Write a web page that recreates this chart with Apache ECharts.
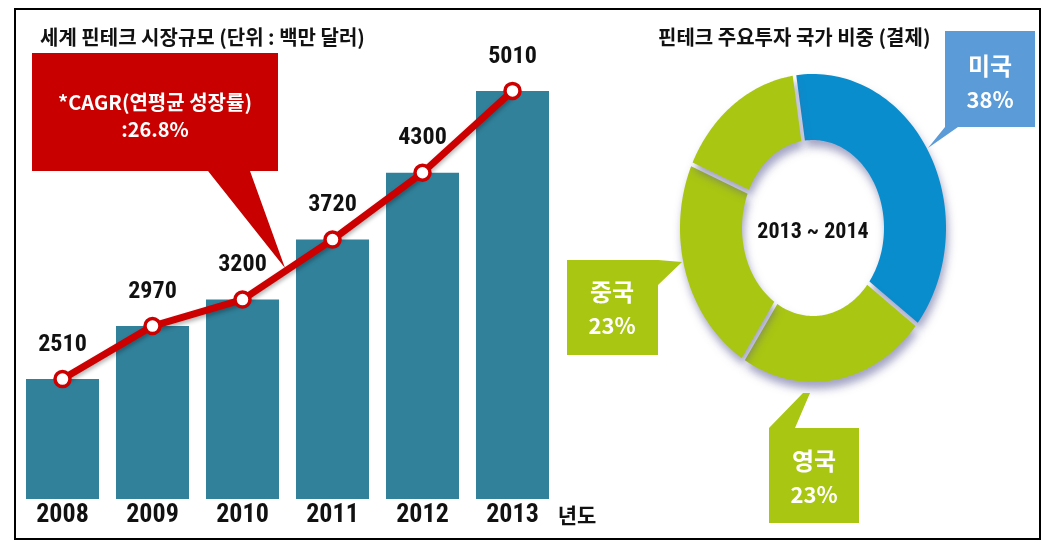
<!DOCTYPE html>
<html>
<head>
<meta charset="utf-8">
<script src="https://cdn.jsdelivr.net/npm/echarts@6/dist/echarts.min.js"></script>
<style>
html,body{margin:0;padding:0;background:#fff;}
#c{width:1054px;height:544px;}
</style>
</head>
<body>
<div id="c"></div>
<script>
// ---- data ----
const years = ['2008', '2009', '2010', '2011', '2012', '2013'];
const marketSize = [2510, 2970, 3200, 3720, 4300, 5010];
const leftTitle = '세계 핀테크 시장규모 (단위 : 백만 달러)';
const rightTitle = '핀테크 주요투자 국가 비중 (결제)';
const cagrText = ['*CAGR(연평균 성장률)', ':26.8%'];
const yearUnit = '년도';
const shareNames = ['미국', '영국', '중국', '기타'];
const shareValues = [38, 23, 23, 16];
const sharePeriod = '2013 ~ 2014';

const NARROW = "'Roboto Condensed', 'DejaVu Sans Condensed', 'Open Sans Condensed', 'Liberation Sans Narrow', 'Noto Sans CJK KR', sans-serif";
const KR = "'Noto Sans CJK KR', sans-serif";
const GREEN = '#a9c612';
const sliceColors = ['#0a8dcd', GREEN, GREEN, GREEN];

const chart = echarts.init(document.getElementById('c'), null, {renderer: 'canvas'});

// donut geometry (elliptical ring)
const D = {cx: 813, cy: 228, rxo: 133, ryo: 154, rxi: 71, ryi: 88, start: -8, gap: 1.8};
const total = shareValues.reduce((a, b) => a + b, 0);

function renderSlice(params, api) {
  const i = params.dataIndex;
  let before = 0;
  for (let k = 0; k < i; k++) before += shareValues[k];
  const a0 = (D.start + before / total * 360) * Math.PI / 180;
  const a1 = (D.start + (before + api.value(0)) / total * 360) * Math.PI / 180;
  const pts = [];
  const N = 80;
  const go0 = a0 + D.gap / D.rxo, go1 = a1 - D.gap / D.rxo;
  const gi0 = a0 + D.gap / D.rxi, gi1 = a1 - D.gap / D.rxi;
  for (let s = 0; s <= N; s++) {
    const t = go0 + (go1 - go0) * s / N;
    pts.push([D.cx + D.rxo * Math.sin(t), D.cy - D.ryo * Math.cos(t)]);
  }
  for (let s = N; s >= 0; s--) {
    const t = gi0 + (gi1 - gi0) * s / N;
    pts.push([D.cx + D.rxi * Math.sin(t), D.cy - D.ryi * Math.cos(t)]);
  }
  return {
    type: 'polygon',
    shape: {points: pts},
    style: {
      fill: sliceColors[i],
      shadowBlur: 8,
      shadowColor: 'rgba(90,90,150,0.55)',
      shadowOffsetX: 2,
      shadowOffsetY: 7
    }
  };
}

const boxText = (x, y, name, val) => ([
  {type: 'text', x: x, y: y - 17, z: 20, style: {text: name, fill: '#fff', font: 'bold 24px ' + KR, textAlign: 'center', textVerticalAlign: 'middle'}},
  {type: 'text', x: x, y: y + 17, z: 20, style: {text: val + '%', fill: '#fff', font: 'bold 22px ' + KR, textAlign: 'center', textVerticalAlign: 'middle'}}
]);

const option = {
  backgroundColor: '#fff',
  animation: false,
  grid: {left: 17.5, width: 540, top: 60, bottom: 45},
  xAxis: {
    type: 'category',
    data: years,
    axisLine: {show: false},
    axisTick: {show: false},
    axisLabel: {color: '#111', fontSize: 26, fontWeight: 'bold', fontFamily: NARROW, margin: 3}
  },
  yAxis: {type: 'value', min: 1470, max: 5278, show: false},
  series: [
    {
      type: 'bar',
      data: marketSize,
      barWidth: 73,
      itemStyle: {color: '#31819b'},
      z: 2
    },
    {
      type: 'line',
      data: marketSize,
      symbol: 'circle',
      symbolSize: 15,
      lineStyle: {color: '#cc0000', width: 7, shadowColor: 'rgba(0,0,0,0.3)', shadowBlur: 4, shadowOffsetY: 3},
      itemStyle: {color: '#fff', borderColor: '#cc0000', borderWidth: 3.5},
      label: {show: true, position: 'top', distance: 13, color: '#111', fontSize: 24, fontWeight: 'bold', fontFamily: NARROW},
      z: 5
    },
    {
      type: 'custom',
      coordinateSystem: 'none',
      data: shareValues,
      renderItem: renderSlice,
      z: 3
    }
  ],
  graphic: [
    {type: 'rect', shape: {x: 15, y: 9, width: 1025, height: 530}, style: {fill: 'none', stroke: '#000', lineWidth: 2}, z: 1, silent: true},
    {type: 'text', x: 40, y: 37, style: {text: leftTitle, fill: '#111', font: 'bold 20px ' + KR, textVerticalAlign: 'middle'}},
    {type: 'text', x: 658, y: 37, style: {text: rightTitle, fill: '#111', font: 'bold 20px ' + KR, textVerticalAlign: 'middle'}},
    {type: 'polygon', z: 1, shape: {points: [[32, 53], [278, 53], [278, 171], [250, 171], [285, 268], [208, 171], [32, 171]]}, style: {fill: '#c80000'}},
    {type: 'text', x: 155, y: 102, z: 10, style: {text: cagrText[0], fill: '#fff', font: 'bold 20px ' + KR, textAlign: 'center', textVerticalAlign: 'middle'}},
    {type: 'text', x: 155, y: 129, z: 10, style: {text: cagrText[1], fill: '#fff', font: 'bold 20px ' + KR, textAlign: 'center', textVerticalAlign: 'middle'}},
    {type: 'text', x: 577, y: 515, style: {text: yearUnit, fill: '#111', font: 'bold 21px ' + KR, textAlign: 'center', textVerticalAlign: 'middle'}},
    {type: 'text', x: 813, y: 232, style: {text: sharePeriod, fill: '#111', font: 'bold 22px ' + NARROW, textAlign: 'center', textVerticalAlign: 'middle'}},
    // 미국 callout
    {type: 'polygon', z: 15, shape: {points: [[945, 31], [1035, 31], [1035, 127], [958, 127], [928, 148], [945, 127]]}, style: {fill: '#5a9bd8'}},
    ...boxText(990, 83, shareNames[0], shareValues[0]),
    // 중국 callout
    {type: 'polygon', z: 15, shape: {points: [[567, 260], [658, 260], [682, 262], [658, 285], [658, 355], [567, 355]]}, style: {fill: GREEN}},
    ...boxText(612, 309, shareNames[2], shareValues[2]),
    // 영국 callout
    {type: 'polygon', z: 15, shape: {points: [[769, 428], [803, 393], [810, 393], [795, 428], [859, 428], [859, 523], [769, 523]]}, style: {fill: GREEN}},
    ...boxText(814, 478, shareNames[1], shareValues[1])
  ]
};
chart.setOption(option);
</script>
</body>
</html>
